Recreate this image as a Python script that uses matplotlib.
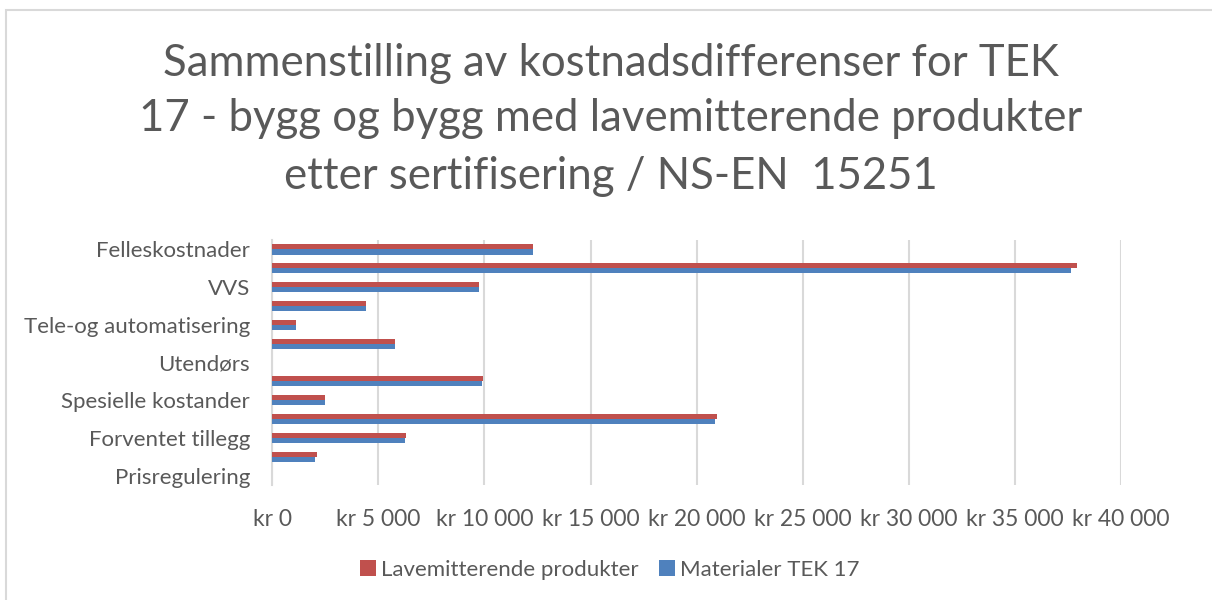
import matplotlib
matplotlib.use("Agg")
import matplotlib.pyplot as plt
from matplotlib.ticker import FuncFormatter, MultipleLocator
from matplotlib.patches import Rectangle
import numpy as np

categories = ["Felleskostnader", "Bygning", "VVS", "Elkraft", "Tele-og automatisering",
              "Andre installasjoner", "Utendørs", "Generelle kostnader", "Spesielle kostander",
              "Merverdiavgift", "Forventet tillegg", "Reserve", "Prisregulering"]
lavemitterende = [12300, 37930, 9740, 4400, 1120, 5800, 0, 9940, 2470, 20940, 6290, 2100, 0]
tek17 = [12300, 37650, 9720, 4400, 1120, 5800, 0, 9860, 2470, 20860, 6260, 2020, 0]
series_names = ["Lavemitterende produkter", "Materialer TEK 17"]
title_lines = ["Sammenstilling av kostnadsdifferenser for TEK",
               "17 - bygg og bygg med lavemitterende produkter",
               "etter sertifisering / NS-EN  15251"]

RED = "#C0504D"
BLUE = "#4F81BD"
GRAY = "#595959"
GRID = "#D9D9D9"
FONT = ["Lato", "DejaVu Sans"]
plt.rcParams["font.family"] = FONT

fig = plt.figure(figsize=(12.12, 6.0), dpi=100)
fig.patch.set_facecolor("white")

# chart border (top/left visible)
fig.patches.append(Rectangle((6/1212, -0.1), 1.2, 1 - 10/600 + 0.1, transform=fig.transFigure,
                             fill=False, edgecolor=GRID, linewidth=1.5))

ax = fig.add_axes([272.3/1212, 1 - 485/600, (1121 - 272.3)/1212, 245/600])
y = np.arange(len(categories))
h = 0.27
ax.barh(y - h/2, lavemitterende, height=h, color=RED, label=series_names[0], zorder=3)
ax.barh(y + h/2, tek17, height=h, color=BLUE, label=series_names[1], zorder=3)

ax.set_ylim(len(categories) - 0.5, -0.5)
ax.set_xlim(0, 40000)
ax.xaxis.set_major_locator(MultipleLocator(5000))
ax.xaxis.set_major_formatter(FuncFormatter(lambda v, p: "kr " + f"{int(v):,}".replace(",", " ")))
ax.set_yticks(y)
ax.set_yticklabels([c if i % 2 == 0 else "" for i, c in enumerate(categories)])
ax.tick_params(axis="y", length=0, pad=16, labelsize=16, labelcolor=GRAY)
ax.tick_params(axis="x", length=0, pad=17, labelsize=16.5, labelcolor=GRAY)
ax.grid(axis="x", color=GRID, linewidth=1.5, zorder=0)
for s in ["top", "right", "bottom"]:
    ax.spines[s].set_visible(False)
ax.spines["left"].set_color(GRID)
ax.spines["left"].set_linewidth(1.5)

baselines = [76, 131, 189]
for line, b in zip(title_lines, baselines):
    fig.text(0.504, 1 - b/600, line, ha="center", va="baseline", fontsize=31.5, color=GRAY)

fig.legend(loc="center", bbox_to_anchor=(610/1212, 1 - 570/600), ncol=2, frameon=False,
           fontsize=16, labelcolor=GRAY, handlelength=0.7, handleheight=0.7,
           handletextpad=0.25, columnspacing=0.9)

fig.savefig("out.png", dpi=100, facecolor="white")
